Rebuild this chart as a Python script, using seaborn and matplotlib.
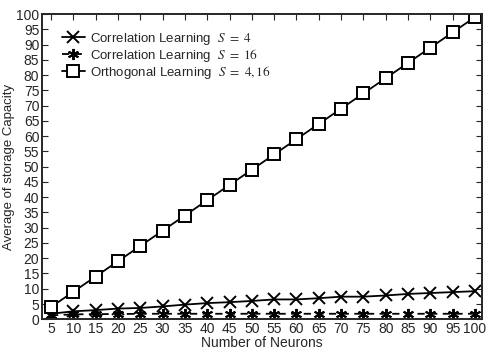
import numpy as np
import pandas as pd
import seaborn as sns
import matplotlib.pyplot as plt

# data
neurons = [5, 10, 15, 20, 25, 30, 35, 40, 45, 50, 55, 60, 65, 70, 75, 80, 85, 90, 95, 100]
corr_s4 = [1.8, 2.6, 3.0, 3.5, 3.7, 4.2, 4.8, 5.3, 5.6, 6.0, 6.5, 6.5, 6.9, 7.4, 7.4, 7.8, 8.3, 8.6, 8.9, 9.2]
corr_s16 = [1.3, 1.6, 1.7, 1.7, 1.8, 1.8, 1.8, 1.8, 1.8, 1.8, 1.8, 1.8, 1.8, 1.8, 1.8, 1.8, 1.8, 1.8, 1.8, 1.8]
orth = [4, 9, 14, 19, 24, 29, 34, 39, 44, 49, 54, 59, 64, 69, 74, 79, 84, 89, 94, 99]

labels = [r"Correlation Learning  $S\ =\ 4$",
          r"Correlation Learning  $S\ =\ 16$",
          r"Orthogonal Learning  $S\ =\ 4,16$"]

df = pd.DataFrame({
    "Neurons": neurons * 3,
    "Capacity": corr_s4 + corr_s16 + orth,
    "Method": [labels[0]] * 20 + [labels[1]] * 20 + [labels[2]] * 20,
})

sns.set_style("ticks")
plt.rcParams["font.family"] = ["Liberation Sans", "DejaVu Sans"]
plt.rcParams["mathtext.fontset"] = "stix"

fig, ax = plt.subplots(figsize=(4.89, 3.52), dpi=100)

styles = {labels[0]: ("x", "-"), labels[1]: ((6, 2, 0), (0, (4, 3))), labels[2]: ("s", "-")}
for lab in labels:
    sub = df[df["Method"] == lab]
    mk, ls = styles[lab]
    sns.lineplot(data=sub, x="Neurons", y="Capacity", ax=ax, color="black",
                 marker=mk, linestyle=ls, linewidth=1.3, markersize=8,
                 markerfacecolor="white" if mk == "s" else "black",
                 markeredgecolor="black", markeredgewidth=1.4, label=lab)

ax.set_xlim(3, 101.5)
ax.set_ylim(0, 100)
ax.set_xticks(neurons)
ax.set_yticks(range(0, 101, 5))
ax.tick_params(direction="in", top=True, right=True, labelsize=10, length=4, pad=2)
for s in ax.spines.values():
    s.set_linewidth(1.4)
ax.set_xlabel("Number of Neurons", fontsize=10, labelpad=0)
ax.set_ylabel("Average of storage Capacity", fontsize=9.5, labelpad=1)
ax.legend(loc="upper left", frameon=False, fontsize=9.5, handlelength=1.7,
          handletextpad=0.4, labelspacing=0.0, borderaxespad=0.3,
          bbox_to_anchor=(0.025, 0.975))

plt.subplots_adjust(left=0.086, right=0.985, top=0.96, bottom=0.093)
plt.savefig("out.png", dpi=100)
